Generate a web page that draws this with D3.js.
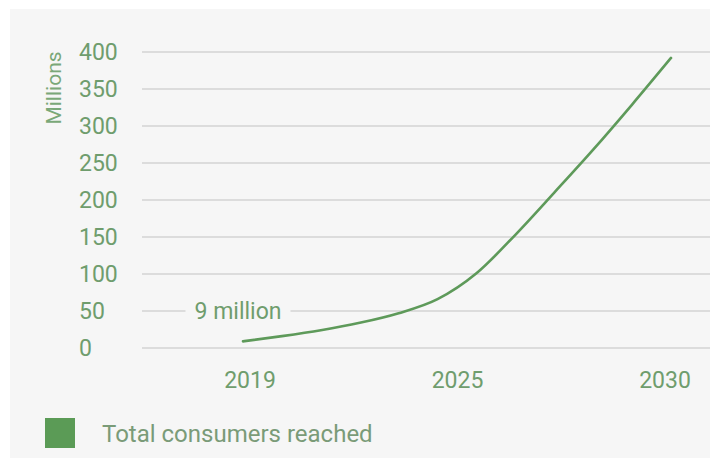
<!DOCTYPE html>
<html>
<head>
<meta charset="utf-8">
<script src="https://cdn.jsdelivr.net/npm/d3@7/dist/d3.min.js"></script>
<style>
  html, body { margin: 0; padding: 0; background: #ffffff; }
  svg { display: block; font-family: Roboto, "Noto Sans", sans-serif; }
</style>
</head>
<body>
<svg id="chart" width="710" height="458"></svg>
<script>
// Consumers reached, millions, by year
const years = [2019, 2020, 2021, 2022, 2023, 2024, 2025, 2026, 2027, 2028, 2029, 2030];
const consumers = [9, 16, 24, 34, 47, 66, 101, 153, 210, 268, 329, 392];

const yTicks = [0, 50, 100, 150, 200, 250, 300, 350, 400];
const xLabels = ["2019", "2025", "2030"];
const startLabel = "9 million";
const yTitle = "Millions";
const legendLabel = "Total consumers reached";

const W = 710, H = 458;
const svg = d3.select("#chart");

// panel
svg.append("rect")
  .attr("x", 10).attr("y", 9)
  .attr("width", W - 10).attr("height", H - 9)
  .attr("fill", "#f6f6f6");

const y = d3.scaleLinear().domain([0, 400]).range([348, 52]);
const x = d3.scaleLinear().domain([2019, 2030]).range([243, 671]);
const xCat = d3.scalePoint().domain(xLabels).range([250, 665]);

const tickColor = "#6f9d6d";
const lineColor = "#5e9a5a";

// gridlines
svg.append("g").selectAll("line")
  .data(yTicks).join("line")
  .attr("x1", 142).attr("x2", W)
  .attr("y1", d => y(d)).attr("y2", d => y(d))
  .attr("stroke", "#d3d3d3")
  .attr("stroke-width", 1.6);

// y tick labels
svg.append("g").selectAll("text")
  .data(yTicks).join("text")
  .attr("x", 79)
  .attr("y", d => y(d))
  .attr("dy", "0.36em")
  .attr("font-size", 23)
  .attr("fill", tickColor)
  .text(d => d);

// y title
svg.append("text")
  .attr("transform", `translate(61, 88) rotate(-90)`)
  .attr("text-anchor", "middle")
  .attr("font-size", 21)
  .attr("fill", "#7aa878")
  .text(yTitle);

// x labels
svg.append("g").selectAll("text")
  .data(xLabels).join("text")
  .attr("x", d => xCat(d))
  .attr("y", 388)
  .attr("text-anchor", "middle")
  .attr("font-size", 23)
  .attr("fill", tickColor)
  .text(d => d);

// label on the 50 gridline, with a gap cut into the line
const lbl = svg.append("g");
const lblText = lbl.append("text")
  .attr("x", 238)
  .attr("y", y(50))
  .attr("dy", "0.36em")
  .attr("text-anchor", "middle")
  .attr("font-size", 23)
  .attr("fill", tickColor)
  .text(startLabel);
const bb = lblText.node().getBBox();
lbl.insert("rect", "text")
  .attr("x", bb.x - 9).attr("y", bb.y)
  .attr("width", bb.width + 18).attr("height", bb.height)
  .attr("fill", "#f6f6f6");

// series line
const line = d3.line()
  .x((d, i) => x(years[i]))
  .y(d => y(d))
  .curve(d3.curveMonotoneX);

svg.append("path")
  .datum(consumers)
  .attr("d", line)
  .attr("fill", "none")
  .attr("stroke", lineColor)
  .attr("stroke-width", 2.6)
  .attr("stroke-linecap", "round");

// legend
svg.append("rect")
  .attr("x", 45).attr("y", 418)
  .attr("width", 30).attr("height", 30)
  .attr("fill", "#5b9b56");
svg.append("text")
  .attr("x", 102).attr("y", 442)
  .attr("font-size", 24)
  .attr("fill", "#7a9b78")
  .text(legendLabel);
</script>
</body>
</html>
